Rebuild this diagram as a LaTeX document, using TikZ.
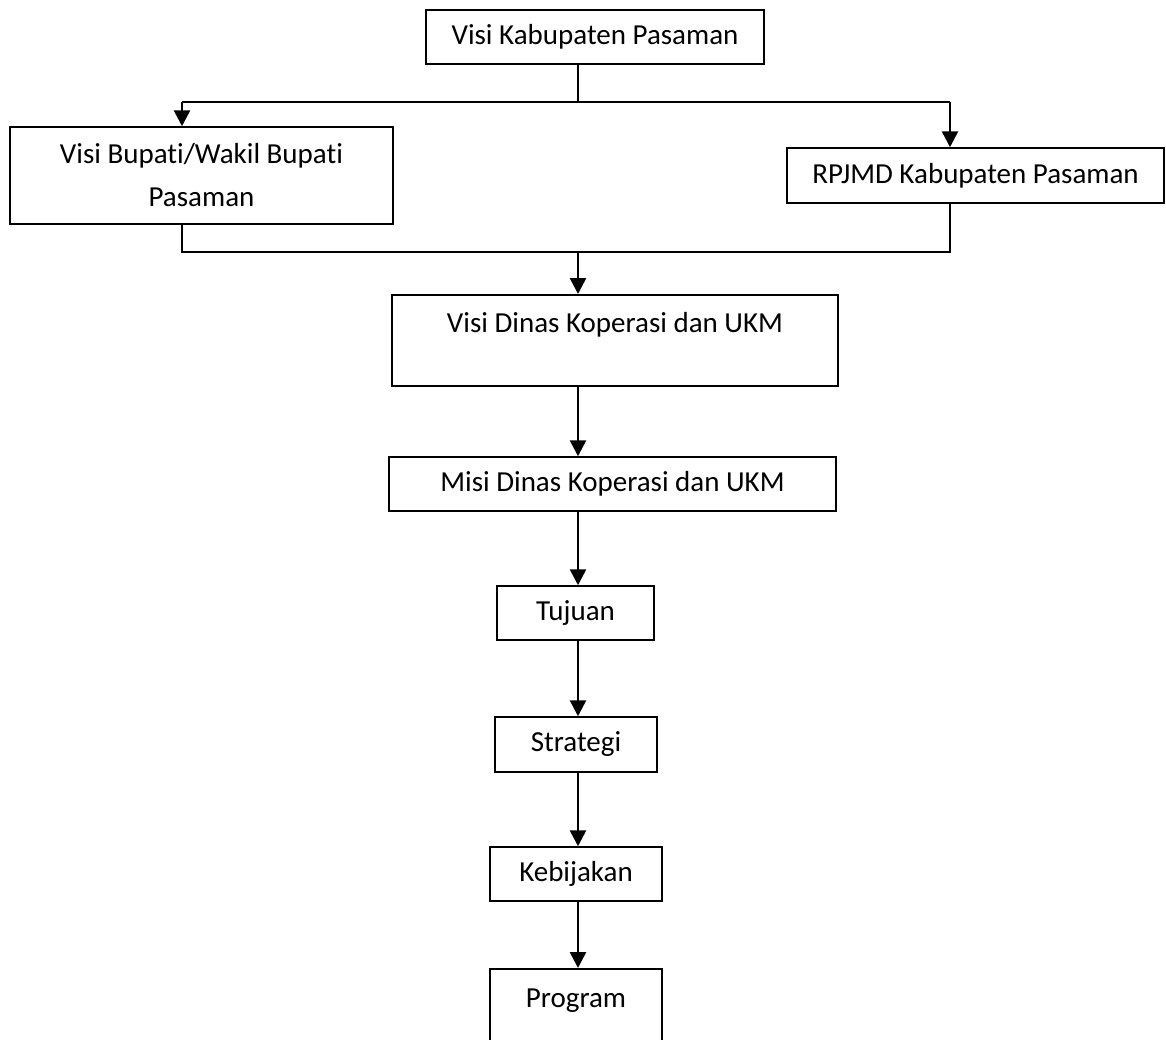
\documentclass[tikz,border=0pt]{standalone}
\usepackage{fontspec}
\setmainfont{Carlito}[Ligatures={NoCommon}]
\usetikzlibrary{arrows.meta, calc}

\tikzset{
  kotak/.style={draw, line width=0.75pt, inner sep=0pt, align=center, font=\fontsize{14.5}{21.5}\selectfont},
  panah/.style={line width=1.3pt, -{Triangle[length=8pt, width=8pt]}},
  garis/.style={line width=1.3pt}
}

\begin{document}
\begin{tikzpicture}[x=0.5pt, y=-0.5pt]
    \useasboundingbox (0,0) rectangle (1166,1039);
    \clip (0,0) rectangle (1166,1039);

    \node[kotak, minimum width=169pt, minimum height=27pt]   (visi)    at (595,37)    {Visi Kabupaten Pasaman};
    \node[kotak, minimum width=191.5pt, minimum height=48.5pt] (bupati) at (201.5,175.5) {Visi Bupati/Wakil Bupati\\Pasaman};
    \node[kotak, minimum width=188.5pt, minimum height=27.5pt] (rpjmd) at (975.5,175.5) {RPJMD Kabupaten Pasaman};
    \node[kotak, minimum width=223pt, text height=19pt, text depth=26.5pt, anchor=north] (dinas) at (615,294) {Visi Dinas Koperasi dan UKM};
    \node[kotak, minimum width=223.5pt, minimum height=27pt] (misi)   at (612.5,484) {Misi Dinas Koperasi dan UKM};
    \node[kotak, minimum width=78.5pt, minimum height=27pt]  (tujuan)   at (575.5,613) {Tujuan};
    \node[kotak, minimum width=81pt, minimum height=27.5pt]  (strategi) at (576,744.5) {Strategi};
    \node[kotak, minimum width=86pt, minimum height=27pt]    (kebijakan) at (576,874) {Kebijakan};
    \node[kotak, minimum width=86pt, text height=19.5pt, text depth=40pt, anchor=north] (program) at (576,968) {Program};

    \coordinate (cabang) at (578,102);
    \coordinate (kiri)   at (182,102);
    \coordinate (kanan)  at (950,102);
    \coordinate (gabung) at (578,252);

    \draw[garis] (cabang |- visi.south) -- (cabang);
    \draw[garis] (kiri) -- (kanan);
    \draw[panah] (kiri) -- (kiri |- bupati.north);
    \draw[panah] (kanan) -- (kanan |- rpjmd.north);

    \draw[garis] (kiri |- bupati.south) |- (gabung) -| (kanan |- rpjmd.south);
    \draw[panah] (gabung) -- (gabung |- dinas.north);

    \foreach \a/\b in {dinas/misi, misi/tujuan, tujuan/strategi, strategi/kebijakan, kebijakan/program}
      \draw[panah] (cabang |- \a.south) -- (cabang |- \b.north);
  \end{tikzpicture}
\end{document}
